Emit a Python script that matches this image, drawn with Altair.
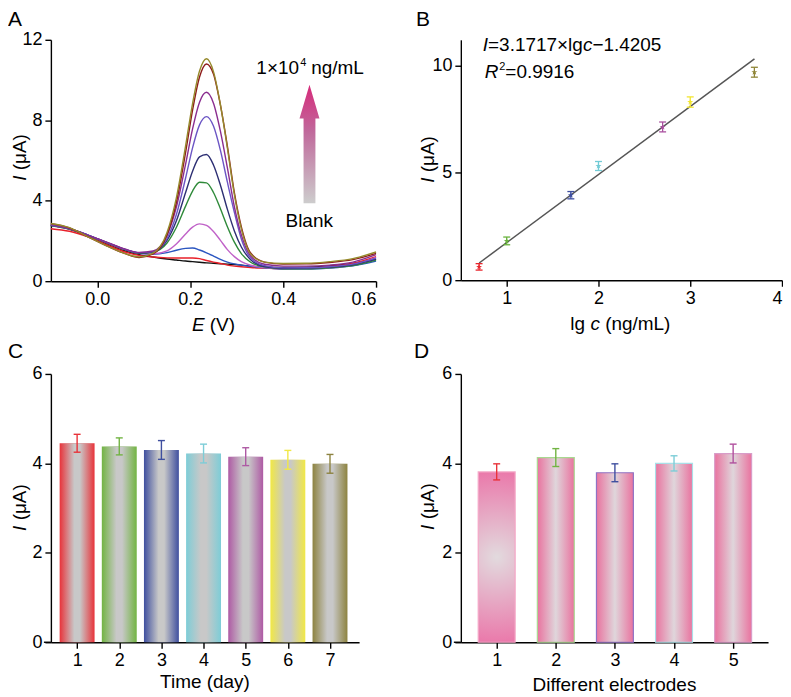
import altair as alt
import pandas as pd

FONT = "Liberation Sans"

# ---------------- Panel A: DPV curves ----------------
E_GRID = [-0.1, -0.06, -0.02, 0.02, 0.06, 0.09, 0.12, 0.15, 0.17, 0.19, 0.205, 0.22, 0.235,
          0.25, 0.265, 0.28, 0.295, 0.31, 0.33, 0.36, 0.4, 0.45, 0.5, 0.55, 0.6]
CURVE_NAMES = ["blank", "c1", "c2", "c3", "c4", "c5", "c6", "c7", "c8", "c9"]
CURVE_COLORS = ["#111111", "#e8202a", "#2a55c0", "#c062c8", "#2f8a3a", "#2d2f73",
                "#6b55c4", "#8a2d8f", "#8e1b1b", "#968a2c"]
I_BLANK = [2.75, 2.58, 2.25, 1.85, 1.50, 1.32, 1.20, 1.10, 1.05, 1.00, 0.97, 0.94, 0.91,
           0.89, 0.87, 0.85, 0.83, 0.80, 0.75, 0.70, 0.68, 0.70, 0.76, 0.88, 1.10]
I_C1 = [2.61, 2.48, 2.20, 1.82, 1.45, 1.28, 1.20, 1.16, 1.15, 1.15, 1.15, 1.12, 1.03,
        0.95, 0.88, 0.80, 0.75, 0.72, 0.68, 0.65, 0.62, 0.64, 0.72, 0.88, 1.22]
I_C2 = [2.78, 2.60, 2.28, 1.92, 1.57, 1.40, 1.34, 1.42, 1.54, 1.63, 1.65, 1.55, 1.41,
        1.25, 1.08, 0.95, 0.86, 0.80, 0.74, 0.67, 0.60, 0.60, 0.65, 0.76, 1.00]
I_C3 = [2.78, 2.60, 2.28, 1.92, 1.57, 1.39, 1.36, 1.51, 1.85, 2.35, 2.69, 2.85, 2.77,
        2.47, 2.03, 1.57, 1.22, 0.97, 0.79, 0.68, 0.63, 0.63, 0.68, 0.80, 1.18]
I_C4 = [2.78, 2.60, 2.28, 1.92, 1.57, 1.39, 1.45, 1.90, 2.67, 3.73, 4.48, 4.92, 4.89,
        4.41, 3.60, 2.71, 1.94, 1.37, 0.94, 0.71, 0.62, 0.62, 0.67, 0.78, 1.05]
I_C5 = [2.79, 2.61, 2.29, 1.93, 1.58, 1.40, 1.46, 2.03, 2.99, 4.41, 5.47, 6.18, 6.30,
        5.78, 4.77, 3.57, 2.50, 1.70, 1.07, 0.73, 0.64, 0.65, 0.70, 0.82, 1.10]
I_C6 = [2.79, 2.61, 2.29, 1.93, 1.58, 1.42, 1.47, 2.12, 3.30, 5.13, 6.63, 7.77, 8.18,
        7.71, 6.50, 4.92, 3.42, 2.10, 1.15, 0.77, 0.66, 0.67, 0.72, 0.85, 1.15]
I_C7 = [2.81, 2.62, 2.28, 1.94, 1.59, 1.43, 1.50, 2.28, 3.67, 5.82, 7.57, 8.90, 9.39,
        8.85, 7.45, 5.63, 3.70, 2.30, 1.25, 0.84, 0.75, 0.75, 0.80, 0.95, 1.32]
I_C8 = [2.86, 2.65, 2.20, 1.76, 1.37, 1.18, 1.36, 2.30, 3.90, 6.40, 8.50, 10.15, 10.80,
        10.30, 8.75, 6.70, 4.40, 2.70, 1.40, 0.95, 0.85, 0.86, 0.93, 1.07, 1.38]
I_C9 = [2.87, 2.66, 2.20, 1.76, 1.37, 1.21, 1.39, 2.42, 4.13, 6.73, 8.83, 10.45, 11.06,
        10.42, 8.77, 6.62, 4.30, 2.60, 1.35, 0.95, 0.88, 0.89, 0.97, 1.12, 1.45]
CURVES = [I_BLANK, I_C1, I_C2, I_C3, I_C4, I_C5, I_C6, I_C7, I_C8, I_C9]
ARROW_E = [0.4567]
ARROW_I = [6.82]

# ---------------- Panel B: calibration ----------------
LGC = [0.699, 1.0, 1.699, 2.0, 2.699, 3.0, 3.699]
I_B = [0.62, 1.83, 3.96, 5.32, 7.14, 8.30, 9.69]
ERR_B = [0.15, 0.18, 0.17, 0.21, 0.23, 0.24, 0.23]
COL_B = ["#e8262d", "#6ab23e", "#3d4ea0", "#72cbd6", "#a9509f", "#f2e530", "#8f8537"]
FIT_X = [0.70, 3.70]
FIT_Y = [0.80, 10.31]

# ---------------- Panel C: stability ----------------
DAYS = [1, 2, 3, 4, 5, 6, 7]
I_C = [4.45, 4.38, 4.30, 4.22, 4.15, 4.08, 3.99]
ERR_C = [0.20, 0.19, 0.21, 0.21, 0.20, 0.21, 0.21]
COL_C = ["#e8333a", "#72b443", "#3f4f9f", "#7dcdd7", "#ae5aa4", "#f1e845", "#8d8340"]

# ---------------- Panel D: reproducibility ----------------
ELEC = [1, 2, 3, 4, 5]
I_D = [3.81, 4.13, 3.79, 4.00, 4.22]
ERR_D = [0.18, 0.20, 0.20, 0.17, 0.21]
ERRCOL_D = ["#e8333a", "#72b443", "#3f4f9f", "#7dcdd7", "#b0509e"]
STROKE_D = ["#f4a6c6", "#a8d890", "#8f73c4", "#a9dfe8", "#d89cc8"]


def txt(s, x, y, size=19, italic=False, align="left", angle=None, baseline="alphabetic"):
    kw = dict(align=align, baseline=baseline, fontSize=size, font=FONT, color="black")
    if italic:
        kw["fontStyle"] = "italic"
    if angle is not None:
        kw["angle"] = angle
    return alt.Chart(pd.DataFrame({"t": [s]})).mark_text(**kw).encode(
        text="t:N", x=alt.value(x), y=alt.value(y))


def letter(s, x, y):
    return txt(s, x, y, size=21, baseline="top")


def ytitle(x, yc):
    # "I (μA)" rotated, italic I
    return [txt("I", x, yc + 23.4, italic=True, angle=270),
            txt("(μA)", x, yc + 23.4 - 10.6, angle=270)]


def xext(h):
    return alt.Chart(pd.DataFrame({"t": [0]})).mark_rule(color="black", strokeWidth=1.4).encode(
        x=alt.value(-7), x2=alt.value(0), y=alt.value(h))


# ----- A -----
WA, HA = 326, 242
rowsA = []
for name, vals in zip(CURVE_NAMES, CURVES):
    for e, v in zip(E_GRID, vals):
        rowsA.append({"E": e, "I": v, "s": name})
dfA = pd.DataFrame(rowsA)
xA = alt.X("E:Q", scale=alt.Scale(domain=[-0.1, 0.6], nice=False, zero=False),
           axis=alt.Axis(values=[0.0, 0.2, 0.4, 0.6], format=".1f", title=None))
yA = alt.Y("I:Q", scale=alt.Scale(domain=[0, 12], nice=False),
           axis=alt.Axis(values=[0, 4, 8, 12], title=None))
layersA = []
for name, col in zip(CURVE_NAMES, CURVE_COLORS):
    layersA.append(alt.Chart(dfA).transform_filter(alt.datum.s == name).mark_line(
        color=col, strokeWidth=1.4, interpolate="monotone").encode(x=xA, y=yA))
arrow_path = ("M0,-1 L0.168,-0.429 L0.1,-0.429 L0.1,1 L-0.1,1 L-0.1,-0.429 "
              "L-0.168,-0.429 Z")
arrow_grad = alt.LinearGradient(gradient="linear", x1=0, y1=1, x2=0, y2=0,
                                stops=[alt.GradientStop(color="#cdcdcd", offset=0),
                                       alt.GradientStop(color="#c06a9c", offset=0.6),
                                       alt.GradientStop(color="#d62a7a", offset=1)])
arrow = alt.Chart(pd.DataFrame({"E": ARROW_E, "I": ARROW_I})).mark_point(
    shape=arrow_path, size=14161, filled=True, fill=arrow_grad, opacity=1,
    strokeWidth=0).encode(x=xA, y=yA)
layersA.append(arrow)
layersA += [letter("A", -43, -31),
            txt("1×10", 206, 34), txt("4", 250, 26, size=11), txt("ng/mL", 261, 34),
            txt("Blank", 259, 188, align="center"),
            txt("E", 141.4, 292, italic=True), txt("(V)", 159.3, 292)]
layersA += ytitle(-25, 118)
chartA = alt.layer(*layersA).properties(width=WA, height=HA)

# ----- B -----
WB, HB = 322, 241
dfB = pd.DataFrame({"x": LGC, "y": I_B, "lo": [a - b for a, b in zip(I_B, ERR_B)],
                    "hi": [a + b for a, b in zip(I_B, ERR_B)], "k": [str(i) for i in range(len(LGC))]})
dfFit = pd.DataFrame({"x": FIT_X, "y": FIT_Y})
xB = alt.X("x:Q", scale=alt.Scale(domain=[0.5, 4], nice=False, zero=False),
           axis=alt.Axis(values=[1, 2, 3, 4], format="d", title=None))
yscB = alt.Scale(domain=[0, 11.2], nice=False)
yB = alt.Y("y:Q", scale=yscB, axis=alt.Axis(values=[0, 5, 10], title=None))
colB = alt.Color("k:N", scale=alt.Scale(domain=[str(i) for i in range(len(LGC))], range=COL_B),
                 legend=None)
star = ("M0,-1L0.2245,-0.309L0.951,-0.309L0.363,0.118L0.588,0.809L0,0.382L-0.588,0.809"
        "L-0.363,0.118L-0.951,-0.309L-0.2245,-0.309Z")
fitB = alt.Chart(dfFit).mark_line(color="#555555", strokeWidth=1.5).encode(x=xB, y=yB)
errB = alt.Chart(dfB).mark_rule(strokeWidth=1.3).encode(
    x=xB, y=alt.Y("lo:Q", scale=yscB), y2="hi:Q", color=colB)
capHiB = alt.Chart(dfB).mark_rule(strokeWidth=1.3, xOffset=-3.5, x2Offset=3.5).encode(
    x=xB, x2="x:Q", y=alt.Y("hi:Q", scale=yscB), color=colB)
capLoB = alt.Chart(dfB).mark_rule(strokeWidth=1.3, xOffset=-3.5, x2Offset=3.5).encode(
    x=xB, x2="x:Q", y=alt.Y("lo:Q", scale=yscB), color=colB)
ptsB = alt.Chart(dfB).mark_point(shape=star, size=40, filled=True, opacity=1).encode(
    x=xB, y=yB, color=colB)
layersB = [fitB, errB, capHiB, capLoB, ptsB,
           letter("B", -45, -31),
           txt("I", 22, 11, italic=True), txt("=3.1717×lg", 27.3, 11),
           txt("c", 122.4, 11, italic=True), txt("−1.4205", 131.9, 11),
           txt("R", 24, 38, italic=True), txt("2", 38.5, 30, size=11),
           txt("=0.9916", 44.6, 38),
           txt("lg", 109.8, 291), txt("c", 129.9, 291, italic=True), txt("(ng/mL)", 144.7, 291)]
layersB += ytitle(-27, 120)
chartB = alt.layer(*layersB).properties(width=WB, height=HB)

# ----- C -----
WC, HC = 309, 269
dfC = pd.DataFrame({"d": DAYS, "v": I_C, "lo": [a - b for a, b in zip(I_C, ERR_C)],
                    "hi": [a + b for a, b in zip(I_C, ERR_C)], "k": [str(d) for d in DAYS]})
xC = alt.X("d:Q", scale=alt.Scale(domain=[0.496, 7.572], nice=False, zero=False),
           axis=alt.Axis(values=DAYS, format="d", title=None))
yscC = alt.Scale(domain=[0, 6], nice=False)
yC = alt.Y("v:Q", scale=yscC, axis=alt.Axis(values=[0, 2, 4, 6], title=None))
colC = alt.Color("k:N", scale=alt.Scale(domain=[str(d) for d in DAYS], range=COL_C), legend=None)
grayGrad = alt.LinearGradient(gradient="linear", x1=0, y1=0, x2=1, y2=0,
                              stops=[alt.GradientStop(color="rgba(200,200,200,0)", offset=0),
                                     alt.GradientStop(color="rgba(200,200,200,1)", offset=0.42),
                                     alt.GradientStop(color="rgba(200,200,200,1)", offset=0.58),
                                     alt.GradientStop(color="rgba(200,200,200,0)", offset=1)])
barsC = alt.Chart(dfC).mark_bar(width=35, opacity=1).encode(x=xC, y=yC, color=colC)
glossC = alt.Chart(dfC).mark_bar(width=35, fill=grayGrad, opacity=1).encode(x=xC, y=yC)
errC = alt.Chart(dfC).mark_rule(strokeWidth=1.4).encode(
    x=xC, y=alt.Y("lo:Q", scale=yscC), y2="hi:Q", color=colC)
capHiC = alt.Chart(dfC).mark_rule(strokeWidth=1.4, xOffset=-3.5, x2Offset=3.5).encode(
    x=xC, x2="d:Q", y=alt.Y("hi:Q", scale=yscC), color=colC)
capLoC = alt.Chart(dfC).mark_rule(strokeWidth=1.4, xOffset=-3.5, x2Offset=3.5).encode(
    x=xC, x2="d:Q", y=alt.Y("lo:Q", scale=yscC), color=colC)
layersC = [barsC, glossC, errC, capHiC, capLoC, xext(HC),
           letter("C", -43, -33),
           txt("Time (day)", WC / 2, 315, align="center")]
layersC += ytitle(-25, 134)
chartC = alt.layer(*layersC).properties(width=WC, height=HC)

# ----- D -----
WD, HD = 308, 269
dfD = pd.DataFrame({"n": ELEC, "v": I_D, "lo": [a - b for a, b in zip(I_D, ERR_D)],
                    "hi": [a + b for a, b in zip(I_D, ERR_D)], "k": [str(e) for e in ELEC]})
xD = alt.X("n:Q", scale=alt.Scale(domain=[0.478, 5.506], nice=False, zero=False),
           axis=alt.Axis(values=ELEC, format="d", title=None))
yscD = alt.Scale(domain=[0, 6], nice=False)
yD = alt.Y("v:Q", scale=yscD, axis=alt.Axis(values=[0, 2, 4, 6], title=None))
keysD = [str(e) for e in ELEC]
errColD = alt.Color("k:N", scale=alt.Scale(domain=keysD, range=ERRCOL_D), legend=None)
strokeD = alt.Stroke("k:N", scale=alt.Scale(domain=keysD, range=STROKE_D), legend=None)
pinkLin = alt.LinearGradient(gradient="linear", x1=0, y1=0, x2=1, y2=0,
                             stops=[alt.GradientStop(color="#e9739f", offset=0),
                                    alt.GradientStop(color="#dfd6db", offset=0.5),
                                    alt.GradientStop(color="#e9739f", offset=1)])
pinkRad = alt.RadialGradient(gradient="radial", x1=0.5, y1=0.5, r1=0, x2=0.5, y2=0.5, r2=0.5,
                             stops=[alt.GradientStop(color="#e2dade", offset=0),
                                    alt.GradientStop(color="#ea7aab", offset=1)])
barsD1 = alt.Chart(dfD).transform_filter(alt.datum.n == 1).mark_bar(
    width=37, fill=pinkRad, opacity=1, strokeWidth=1.2).encode(x=xD, y=yD, stroke=strokeD)
barsD = alt.Chart(dfD).transform_filter(alt.datum.n > 1).mark_bar(
    width=37, fill=pinkLin, opacity=1, strokeWidth=1.2).encode(x=xD, y=yD, stroke=strokeD)
errD = alt.Chart(dfD).mark_rule(strokeWidth=1.4).encode(
    x=xD, y=alt.Y("lo:Q", scale=yscD), y2="hi:Q", color=errColD)
capHiD = alt.Chart(dfD).mark_rule(strokeWidth=1.4, xOffset=-3.5, x2Offset=3.5).encode(
    x=xD, x2="n:Q", y=alt.Y("hi:Q", scale=yscD), color=errColD)
capLoD = alt.Chart(dfD).mark_rule(strokeWidth=1.4, xOffset=-3.5, x2Offset=3.5).encode(
    x=xD, x2="n:Q", y=alt.Y("lo:Q", scale=yscD), color=errColD)
layersD = [barsD1, barsD, errD, capHiD, capLoD, xext(HD),
           letter("D", -47, -33),
           txt("Different electrodes", WD / 2, 318, align="center")]
layersD += ytitle(-27, 133)
chartD = alt.layer(*layersD).properties(width=WD, height=HD)

chart = alt.concat(chartA, chartB, chartC, chartD, columns=2,
                   spacing={"row": 93, "column": 85}, bounds="flush").properties(
    padding=0
).configure_axis(
    domainColor="black", tickColor="black", labelColor="black", labelFont=FONT,
    labelFontSize=18, grid=False, domainWidth=1.4, tickWidth=1.4, tickSize=6,
    labelPadding=3
).configure_view(stroke=None).resolve_scale(color="independent", stroke="independent")

chart.save("out.html", embed_options={"renderer": "svg", "actions": False})
